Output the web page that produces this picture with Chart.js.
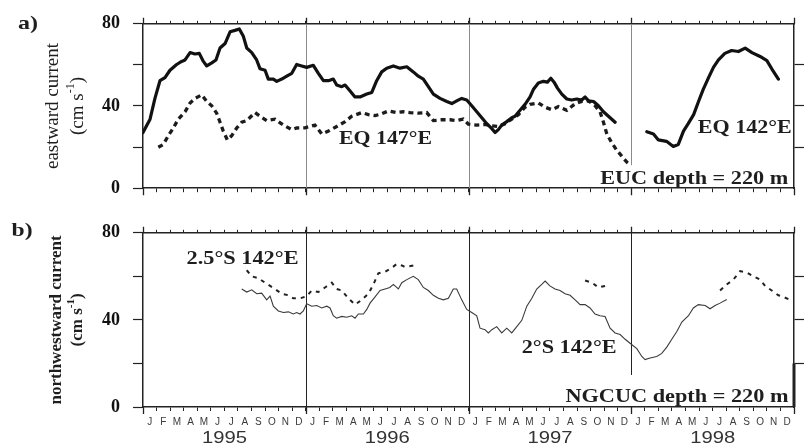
<!DOCTYPE html>
<html>
<head>
<meta charset="utf-8">
<script src="https://cdn.jsdelivr.net/npm/chart.js@4/dist/chart.umd.min.js"></script>
<style>
  html, body { margin: 0; padding: 0; background: #fff; }
  #wrap { position: relative; width: 809px; height: 445px; overflow: hidden; background: #fff; }
  canvas { position: absolute; left: 0; }
  #panelA { top: 0; }
  #panelB { top: 209px; }
</style>
</head>
<body>
<div id="wrap">
  <canvas id="panelA" width="809" height="212"></canvas>
  <canvas id="panelB" width="809" height="236"></canvas>
</div>
<script>
// Time axis is in months counted from 1 January 1995.
const monthLetters = ['J', 'F', 'M', 'A', 'M', 'J', 'J', 'A', 'S', 'O', 'N', 'D'];
const years = ['1995', '1996', '1997', '1998'];
const speedTicks = [0, 20, 40, 60, 80];
const speedLabels = [0, 40, 80];

// a) EUC at 220 m, equator 142°E (null = gap in the record)
const eq142Months = [
  0.00, 0.52, 0.88, 1.25, 1.62, 1.99, 2.48, 2.85, 3.10, 3.47,
  3.83, 4.15, 4.45, 4.70, 5.07, 5.38, 5.68, 6.05, 6.42, 6.78,
  7.10, 7.40, 7.65, 8.02, 8.38, 8.63, 9.00, 9.24, 9.61, 9.86,
  10.23, 10.60, 10.97, 11.33, 11.70, 12.07, 12.56, 12.93, 13.30, 13.67,
  14.03, 14.28, 14.65, 14.90, 15.27, 15.63, 16.00, 16.50, 16.87, 17.23,
  17.60, 17.97, 18.46, 18.95, 19.45, 19.93, 20.30, 20.67, 21.04, 21.41,
  21.90, 22.40, 22.77, 23.13, 23.50, 23.87, 24.24, 24.61, 24.98, 25.35,
  25.72, 25.96, 26.20, 26.45, 26.82, 27.19, 27.43, 27.80, 28.17, 28.54,
  28.78, 29.15, 29.52, 29.82, 30.07, 30.31, 30.56, 30.88, 31.25, 31.61,
  31.98, 32.35, 32.60, 32.85, 33.22, 33.58, 33.95, 34.44, 34.81, 36.00,
  37.15, 37.64, 38.00, 38.60, 39.10, 39.47, 39.85, 40.20, 40.60, 40.96,
  41.30, 41.70, 42.06, 42.43, 42.90, 43.40, 43.90, 44.40, 44.90, 45.50,
  46.00, 46.36, 46.85
];
const eq142Speed = [
  27.1, 33.6, 43.7, 52.3, 53.8, 57.4, 60.2, 61.7, 62.4, 66.0,
  65.3, 65.6, 61.7, 59.5, 61.0, 62.4, 68.2, 70.4, 76.1, 76.8,
  77.5, 73.9, 68.2, 66.0, 62.4, 58.1, 57.4, 53.1, 53.1, 52.0,
  53.1, 54.5, 55.9, 60.2, 59.5, 58.8, 59.8, 55.9, 52.3, 52.3,
  53.1, 50.2, 49.4, 50.2, 47.3, 44.4, 44.4, 45.8, 46.6, 52.3,
  56.6, 58.4, 59.5, 58.4, 59.1, 56.6, 54.5, 53.1, 49.4, 45.8,
  43.7, 42.2, 41.2, 42.5, 43.7, 42.9, 40.1, 37.2, 34.3, 31.4,
  29.0, 27.1, 28.5, 30.7, 32.4, 34.3, 35.0, 37.9, 40.8, 44.4,
  48.0, 51.2, 52.0, 51.6, 53.5, 51.6, 48.7, 45.8, 43.4, 42.9,
  43.4, 42.9, 44.4, 42.5, 42.2, 40.1, 37.2, 34.3, 32.1, null,
  27.5, 26.4, 23.5, 22.8, 20.3, 21.3, 27.8, 31.4, 35.8, 42.2,
  48.0, 53.8, 58.8, 62.4, 65.6, 67.0, 66.5, 68.2, 66.0, 64.1,
  62.1, 58.1, 53.1
];

// a) EUC at 220 m, equator 147°E
const eq147Months = [
  1.13, 1.50, 1.87, 2.24, 2.60, 3.10, 3.47, 3.83, 4.33, 4.70,
  5.07, 5.43, 5.68, 5.92, 6.22, 6.54, 6.91, 7.28, 7.65, 8.26,
  8.63, 9.12, 9.73, 10.35, 10.97, 11.33, 11.95, 12.68, 13.18, 13.67,
  14.28, 14.90, 15.39, 16.13, 16.62, 17.11, 17.60, 18.10, 18.71, 19.20,
  19.69, 20.30, 20.92, 21.41, 22.03, 22.64, 23.13, 23.62, 23.99, 24.61,
  25.22, 25.72, 26.20, 26.70, 27.19, 27.68, 28.17, 28.54, 29.15, 29.65,
  30.14, 30.63, 31.25, 31.86, 32.35, 32.85, 33.33, 33.70, 33.95, 34.20,
  34.56, 34.93, 35.30, 35.67, 35.80
];
const eq147Speed = [
  19.9, 21.3, 25.6, 29.3, 33.6, 37.2, 41.5, 43.7, 45.4, 42.2,
  40.1, 36.5, 32.1, 27.8, 23.5, 25.6, 29.3, 32.1, 32.9, 36.8,
  35.0, 32.9, 33.6, 30.7, 28.5, 29.3, 29.4, 30.7, 26.4, 27.8,
  30.0, 32.4, 35.0, 36.8, 35.8, 35.3, 36.2, 37.6, 36.8, 37.2,
  36.8, 36.5, 36.8, 32.9, 33.3, 33.3, 32.9, 33.6, 31.2, 30.7,
  31.0, 30.4, 30.0, 31.4, 33.6, 35.8, 39.4, 40.8, 41.5, 39.4,
  38.2, 39.7, 37.9, 41.1, 42.2, 42.5, 40.1, 37.2, 32.1, 26.4,
  22.1, 18.5, 15.6, 12.7, 12.0
];

// b) NGCUC at 220 m, 2°S 142°E
const ngcuc2Months = [
  7.28, 7.65, 8.02, 8.38, 8.75, 9.12, 9.37, 9.61, 9.98, 10.35,
  10.72, 11.08, 11.33, 11.58, 11.82, 12.07, 12.44, 12.81, 13.18, 13.55,
  13.79, 14.03, 14.28, 14.65, 15.02, 15.39, 15.63, 15.88, 16.25, 16.50,
  16.74, 17.11, 17.48, 17.85, 18.20, 18.46, 18.83, 19.08, 19.45, 19.93,
  20.30, 20.67, 21.04, 21.41, 21.78, 22.15, 22.52, 22.88, 23.13, 23.50,
  23.87, 24.24, 24.61, 24.85, 25.22, 25.46, 25.72, 26.08, 26.45, 26.82,
  27.19, 27.56, 27.93, 28.30, 28.67, 29.03, 29.40, 29.65, 30.00, 30.38,
  30.75, 31.12, 31.49, 31.86, 32.23, 32.60, 32.96, 33.33, 33.70, 34.07,
  34.44, 34.81, 35.18, 35.55, 35.91, 36.41, 36.78, 37.02, 37.39, 37.88,
  38.25, 38.62, 38.99, 39.36, 39.73, 39.97, 40.22, 40.58, 40.95, 41.45,
  41.81, 42.18, 42.55, 43.04
];
const ngcuc2Speed = [
  54.2, 52.8, 53.8, 52.0, 52.3, 49.2, 50.9, 46.3, 44.1, 43.4,
  43.7, 42.7, 43.4, 42.7, 44.1, 47.4, 46.3, 46.6, 45.5, 46.3,
  45.5, 41.9, 40.8, 41.6, 41.2, 41.9, 40.8, 42.7, 42.7, 44.8,
  47.7, 50.6, 53.5, 54.2, 54.9, 56.3, 54.2, 57.1, 58.5, 60.0,
  58.5, 54.9, 53.5, 51.3, 49.9, 49.2, 49.9, 54.2, 54.2, 49.2,
  44.8, 43.4, 41.9, 36.2, 35.5, 34.0, 35.5, 36.9, 34.0, 36.2,
  34.0, 36.9, 39.8, 46.3, 49.9, 54.2, 56.3, 57.8, 55.6, 54.2,
  53.5, 52.0, 51.3, 49.2, 47.0, 47.0, 45.5, 42.7, 41.9, 41.6,
  36.2, 34.0, 33.3, 31.1, 29.3, 26.8, 23.2, 21.8, 22.5, 23.2,
  24.6, 27.5, 31.1, 34.7, 39.0, 40.5, 41.9, 45.5, 47.0, 46.6,
  45.1, 46.6, 47.7, 49.4
];

// b) NGCUC at 220 m, 2.5°S 142°E (null = gap in the record)
const ngcuc25Months = [
  7.65, 8.02, 8.50, 8.99, 9.37, 9.73, 10.23, 10.72, 11.08, 11.58,
  12.07, 12.44, 12.93, 13.42, 13.92, 14.28, 14.65, 15.14, 15.63, 16.13,
  16.62, 16.99, 17.35, 17.85, 18.34, 18.71, 19.08, 19.32, 19.93, 21.00,
  32.60, 33.10, 33.58, 34.07, 38.00, 42.55, 43.04, 43.53, 44.03, 44.52,
  45.00, 45.50, 45.87, 46.36, 46.85, 47.20, 47.71
];
const ngcuc25Speed = [
  62.8, 60.0, 59.2, 57.1, 55.6, 54.2, 52.0, 51.3, 49.9, 49.9,
  50.9, 53.5, 52.8, 54.9, 57.1, 54.2, 53.5, 49.9, 47.0, 49.2,
  52.0, 56.3, 61.4, 62.1, 63.9, 65.7, 65.0, 64.3, 65.0, null,
  58.1, 57.1, 54.9, 55.6, null, 53.5, 56.3, 58.5, 62.4, 61.8,
  60.0, 58.5, 55.6, 53.5, 51.3, 50.6, 49.2
];

const toPoints = (months, speed) => months.map((m, i) => ({ x: m, y: speed[i] }));
const yearStarts = years.map((_, i) => i * 12).concat([years.length * 12]);
const lastMonth = years.length * 12;

const SERIF = '"Liberation Serif", "Times New Roman", serif';
const SANS = '"Liberation Sans", Arial, sans-serif';
const INK = '#1e1e1e';

// Draw text stretched horizontally to a given width (wide typeset labels).
function wideText(ctx, text, cx, baseline, width, font, color) {
  ctx.save();
  ctx.font = font;
  ctx.fillStyle = color;
  ctx.textAlign = 'center';
  ctx.textBaseline = 'alphabetic';
  const w = ctx.measureText(text).width;
  ctx.translate(cx, baseline);
  ctx.scale(width / w, 1);
  ctx.fillText(text, 0, 0);
  ctx.restore();
}

// Rotated axis title; second line carries the "s-1" superscript.
function axisTitle(ctx, t, a) {
  const cy = (a.top + a.bottom) / 2;
  ctx.save();
  ctx.fillStyle = INK;
  ctx.textBaseline = 'middle';
  ctx.translate(a.left + t.x1, cy);
  ctx.rotate(-Math.PI / 2);
  ctx.font = t.font;
  ctx.textAlign = 'center';
  ctx.fillText(t.line1, 0, 0);
  ctx.restore();

  ctx.save();
  ctx.fillStyle = INK;
  ctx.textBaseline = 'middle';
  ctx.translate(a.left + t.x2, cy);
  ctx.rotate(-Math.PI / 2);
  ctx.textAlign = 'left';
  const supFont = t.font.replace(/\d+px/, Math.round(t.size * 0.62) + 'px');
  ctx.font = t.font;
  const w1 = ctx.measureText('(cm s').width;
  const w3 = ctx.measureText(')').width;
  ctx.font = supFont;
  const w2 = ctx.measureText('-1').width;
  let x = -(w1 + w2 + w3) / 2;
  ctx.font = t.font;
  ctx.fillText('(cm s', x, 0);
  x += w1;
  ctx.font = supFont;
  ctx.fillText('-1', x, -t.size * 0.38);
  x += w2;
  ctx.font = t.font;
  ctx.fillText(')', x, 0);
  ctx.restore();
}

const decorPlugin = {
  id: 'decor',
  beforeDatasetsDraw(chart, _args, o) {
    const ctx = chart.ctx, xs = chart.scales.x, ys = chart.scales.y, a = chart.chartArea;
    ctx.save();
    ctx.strokeStyle = o.dividerColor;
    ctx.lineWidth = 1;
    o.dividers.forEach(d => {
      const px = Math.round(xs.getPixelForValue(d.month)) + 0.5;
      ctx.beginPath();
      ctx.moveTo(px, a.top);
      ctx.lineTo(px, ys.getPixelForValue(d.down));
      ctx.stroke();
    });
    ctx.restore();
  },
  afterDraw(chart, _args, o) {
    const ctx = chart.ctx, xs = chart.scales.x, ys = chart.scales.y, a = chart.chartArea;
    ctx.save();
    // longer outward ticks at each year boundary
    ctx.strokeStyle = '#222';
    ctx.lineWidth = 1.3;
    yearStarts.forEach(m => {
      const px = Math.round(xs.getPixelForValue(m)) + 0.5;
      ctx.beginPath();
      ctx.moveTo(px, a.top - 6); ctx.lineTo(px, a.top);
      ctx.moveTo(px, a.bottom); ctx.lineTo(px, a.bottom + 7);
      ctx.stroke();
    });
    if (o.heavyRight) {
      ctx.lineWidth = 3;
      ctx.beginPath();
      ctx.moveTo(xs.getPixelForValue(lastMonth), ys.getPixelForValue(o.heavyRight[0]));
      ctx.lineTo(xs.getPixelForValue(lastMonth), ys.getPixelForValue(o.heavyRight[1]));
      ctx.stroke();
    }
    ctx.restore();

    const noteFont = 'bold 18px ' + SERIF;
    o.notes.forEach(n => {
      wideText(ctx, n.text, xs.getPixelForValue(n.month), ys.getPixelForValue(n.speed), n.width, noteFont, INK);
    });
    wideText(ctx, o.tag.text, a.left + o.tag.dx, a.top + o.tag.dy, o.tag.width, 'bold 19px ' + SERIF, INK);
    axisTitle(ctx, o.title, a);

    if (o.showYears) {
      years.forEach((yr, i) => {
        wideText(ctx, yr, xs.getPixelForValue(i * 12 + 6), a.bottom + 36, 45, '16px ' + SANS, '#333');
      });
    }
  }
};

function monthTicks(scale) {
  scale.ticks = [];
  for (let m = 0; m <= lastMonth; m++) scale.ticks.push({ value: m });
}
function halfMonthTicks(scale) {
  scale.ticks = [];
  for (let k = 0; k <= lastMonth * 2; k++) scale.ticks.push({ value: k / 2 });
}
function speedTickList(scale) {
  scale.ticks = speedTicks.map(v => ({ value: v }));
}

function buildScales(frame) {
  const border = { display: true, color: '#222', width: 1.5 };
  return {
    x: {
      type: 'linear', position: 'bottom', min: 0, max: lastMonth,
      afterBuildTicks: frame.monthLabels ? halfMonthTicks : monthTicks,
      ticks: {
        display: frame.monthLabels, autoSkip: false, maxRotation: 0, minRotation: 0,
        padding: 5, color: '#3a3a3a', font: { family: SANS, size: 10 },
        callback: v => (v % 1 === 0.5 ? monthLetters[Math.floor(v) % 12] : '')
      },
      grid: {
        drawOnChartArea: false, drawTicks: true, tickLength: 4, tickWidth: 1,
        tickColor: c => (c.tick && c.tick.value % 1 === 0 ? '#222' : 'rgba(0,0,0,0)')
      },
      border,
      afterFit: s => { s.height = frame.bottom; }
    },
    xTop: {
      type: 'linear', position: 'top', min: 0, max: lastMonth,
      afterBuildTicks: monthTicks,
      ticks: { display: false },
      grid: { drawOnChartArea: false, drawTicks: true, tickLength: 3, tickWidth: 1, tickColor: '#222' },
      border,
      afterFit: s => { s.height = frame.top; }
    },
    y: {
      type: 'linear', position: 'left', min: 0, max: 80,
      afterBuildTicks: speedTickList,
      ticks: {
        padding: 13, color: '#111',
        font: { family: SERIF, weight: 'bold', size: 18 },
        callback: v => (speedLabels.includes(v) ? String(v) : '')
      },
      grid: { drawOnChartArea: false, drawTicks: true, tickLength: 10, tickWidth: 1.2, tickColor: '#222' },
      border,
      afterFit: s => { s.width = frame.left; }
    },
    yRight: {
      type: 'linear', position: 'right', min: 0, max: 80,
      afterBuildTicks: speedTickList,
      ticks: { display: false },
      grid: {
        drawOnChartArea: false, drawTicks: true, tickLength: 10, tickWidth: 1.2,
        tickColor: c => (c.tick && c.tick.value > 0 && c.tick.value < 80 ? '#222' : 'rgba(0,0,0,0)')
      },
      border,
      afterFit: s => { s.width = frame.right; }
    }
  };
}

function baseOptions(frame, decor) {
  return {
    responsive: false,
    animation: false,
    devicePixelRatio: 1,
    events: [],
    layout: { padding: 0 },
    scales: buildScales(frame),
    plugins: { legend: { display: false }, tooltip: { enabled: false }, decor }
  };
}

// Panel a) eastward current
new Chart(document.getElementById('panelA'), {
  type: 'line',
  data: {
    datasets: [
      {
        label: 'EQ 142°E', data: toPoints(eq142Months, eq142Speed),
        borderColor: '#111', borderWidth: 3.2, pointRadius: 0, tension: 0,
        borderJoinStyle: 'round', borderCapStyle: 'round', spanGaps: false
      },
      {
        label: 'EQ 147°E', data: toPoints(eq147Months, eq147Speed),
        borderColor: '#1c1c1c', borderWidth: 3.3, borderDash: [5, 4], pointRadius: 0, tension: 0,
        spanGaps: false
      }
    ]
  },
  options: baseOptions(
    { left: 143, right: 15, top: 16, bottom: 11, monthLabels: false },
    {
      dividerColor: '#8a8a8a',
      dividers: [{ month: 12, down: 0 }, { month: 24, down: 0 }, { month: 36, down: 11.2 }],
      notes: [
        { text: 'EQ 147°E', month: 17.88, speed: 21.3, width: 93 },
        { text: 'EQ 142°E', month: 44.37, speed: 26.7, width: 94 },
        { text: 'EUC depth = 220 m', month: 40.64, speed: 2.2, width: 188 }
      ],
      tag: { text: 'a)', dx: -115, dy: 5, width: 20 },
      title: { line1: 'eastward current', font: '19px ' + SERIF, size: 19, x1: -90, x2: -65 },
      showYears: false
    }
  ),
  plugins: [decorPlugin]
});

// Panel b) northwestward current
new Chart(document.getElementById('panelB'), {
  type: 'line',
  data: {
    datasets: [
      {
        label: '2°S 142°E', data: toPoints(ngcuc2Months, ngcuc2Speed),
        borderColor: '#3a3a3a', borderWidth: 1.1, pointRadius: 0, tension: 0, spanGaps: false
      },
      {
        label: '2.5°S 142°E', data: toPoints(ngcuc25Months, ngcuc25Speed),
        borderColor: '#222', borderWidth: 2, borderDash: [4, 5], pointRadius: 0, tension: 0,
        spanGaps: false
      }
    ]
  },
  options: baseOptions(
    { left: 143, right: 15, top: 13, bottom: 38, monthLabels: true },
    {
      dividerColor: '#222',
      dividers: [{ month: 12, down: 0 }, { month: 24, down: 0 }, { month: 36, down: 14.7 }],
      notes: [
        { text: '2.5°S 142°E', month: 7.34, speed: 65.7, width: 112 },
        { text: '2°S 142°E', month: 31.42, speed: 24.6, width: 95 },
        { text: 'NGCUC depth = 220 m', month: 39.37, speed: 2.3, width: 223 }
      ],
      tag: { text: 'b)', dx: -121, dy: 3, width: 21 },
      title: { line1: 'northwestward current', font: 'bold 17px ' + SERIF, size: 17, x1: -86, x2: -65 },
      heavyRight: [20, 0],
      showYears: true
    }
  ),
  plugins: [decorPlugin]
});
</script>
</body>
</html>
